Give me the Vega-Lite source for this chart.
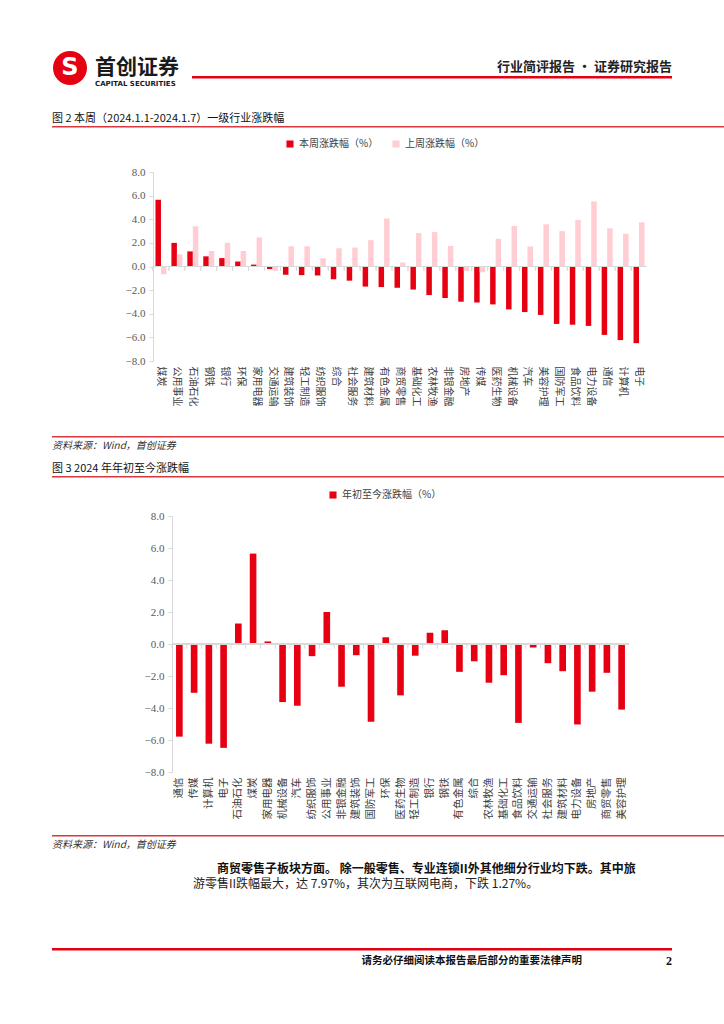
{
  "$schema": "https://vega.github.io/schema/vega-lite/v6.json",
  "padding": {"left": 52, "top": 50, "right": 0, "bottom": 0},
  "background": "white",
  "spacing": 0,
  "resolve": {"scale": {"color": "independent"}, "legend": {"color": "independent"}},
  "config": {
    "view": {"stroke": null},
    "font": "Noto Sans CJK SC"
  },
  "datasets": {
    "week": [
      {"industry": "煤炭", "本周涨跌幅（%）": 5.65, "上周涨跌幅（%）": -0.66},
      {"industry": "公用事业", "本周涨跌幅（%）": 2.00, "上周涨跌幅（%）": 1.03},
      {"industry": "石油石化", "本周涨跌幅（%）": 1.28, "上周涨跌幅（%）": 3.40},
      {"industry": "钢铁", "本周涨跌幅（%）": 0.86, "上周涨跌幅（%）": 1.31},
      {"industry": "银行", "本周涨跌幅（%）": 0.71, "上周涨跌幅（%）": 2.00},
      {"industry": "环保", "本周涨跌幅（%）": 0.42, "上周涨跌幅（%）": 1.31},
      {"industry": "家用电器", "本周涨跌幅（%）": 0.16, "上周涨跌幅（%）": 2.46},
      {"industry": "交通运输", "本周涨跌幅（%）": -0.22, "上周涨跌幅（%）": -0.37},
      {"industry": "建筑装饰", "本周涨跌幅（%）": -0.70, "上周涨跌幅（%）": 1.71},
      {"industry": "轻工制造", "本周涨跌幅（%）": -0.73, "上周涨跌幅（%）": 1.71},
      {"industry": "纺织服饰", "本周涨跌幅（%）": -0.76, "上周涨跌幅（%）": 0.69},
      {"industry": "综合", "本周涨跌幅（%）": -1.08, "上周涨跌幅（%）": 1.54},
      {"industry": "社会服务", "本周涨跌幅（%）": -1.20, "上周涨跌幅（%）": 1.60},
      {"industry": "建筑材料", "本周涨跌幅（%）": -1.70, "上周涨跌幅（%）": 2.23},
      {"industry": "有色金属", "本周涨跌幅（%）": -1.74, "上周涨跌幅（%）": 4.06},
      {"industry": "商贸零售", "本周涨跌幅（%）": -1.80, "上周涨跌幅（%）": 0.34},
      {"industry": "基础化工", "本周涨跌幅（%）": -1.95, "上周涨跌幅（%）": 2.83},
      {"industry": "农林牧渔", "本周涨跌幅（%）": -2.42, "上周涨跌幅（%）": 2.91},
      {"industry": "非银金融", "本周涨跌幅（%）": -2.67, "上周涨跌幅（%）": 1.74},
      {"industry": "房地产", "本周涨跌幅（%）": -2.98, "上周涨跌幅（%）": -0.37},
      {"industry": "传媒", "本周涨跌幅（%）": -3.05, "上周涨跌幅（%）": -0.49},
      {"industry": "医药生物", "本周涨跌幅（%）": -3.21, "上周涨跌幅（%）": 2.34},
      {"industry": "机械设备", "本周涨跌幅（%）": -3.63, "上周涨跌幅（%）": 3.43},
      {"industry": "汽车", "本周涨跌幅（%）": -3.86, "上周涨跌幅（%）": 1.69},
      {"industry": "美容护理", "本周涨跌幅（%）": -4.10, "上周涨跌幅（%）": 3.57},
      {"industry": "国防军工", "本周涨跌幅（%）": -4.86, "上周涨跌幅（%）": 3.00},
      {"industry": "食品饮料", "本周涨跌幅（%）": -4.93, "上周涨跌幅（%）": 3.94},
      {"industry": "电力设备", "本周涨跌幅（%）": -5.03, "上周涨跌幅（%）": 5.51},
      {"industry": "通信", "本周涨跌幅（%）": -5.79, "上周涨跌幅（%）": 3.23},
      {"industry": "计算机", "本周涨跌幅（%）": -6.23, "上周涨跌幅（%）": 2.77},
      {"industry": "电子", "本周涨跌幅（%）": -6.49, "上周涨跌幅（%）": 3.74}
    ],
    "ytd": [
      {"industry": "通信", "年初至今涨跌幅（%）": -5.79},
      {"industry": "传媒", "年初至今涨跌幅（%）": -3.05},
      {"industry": "计算机", "年初至今涨跌幅（%）": -6.23},
      {"industry": "电子", "年初至今涨跌幅（%）": -6.49},
      {"industry": "石油石化", "年初至今涨跌幅（%）": 1.28},
      {"industry": "煤炭", "年初至今涨跌幅（%）": 5.65},
      {"industry": "家用电器", "年初至今涨跌幅（%）": 0.16},
      {"industry": "机械设备", "年初至今涨跌幅（%）": -3.63},
      {"industry": "汽车", "年初至今涨跌幅（%）": -3.86},
      {"industry": "纺织服饰", "年初至今涨跌幅（%）": -0.76},
      {"industry": "公用事业", "年初至今涨跌幅（%）": 2.00},
      {"industry": "非银金融", "年初至今涨跌幅（%）": -2.67},
      {"industry": "建筑装饰", "年初至今涨跌幅（%）": -0.70},
      {"industry": "国防军工", "年初至今涨跌幅（%）": -4.86},
      {"industry": "环保", "年初至今涨跌幅（%）": 0.42},
      {"industry": "医药生物", "年初至今涨跌幅（%）": -3.21},
      {"industry": "轻工制造", "年初至今涨跌幅（%）": -0.73},
      {"industry": "银行", "年初至今涨跌幅（%）": 0.71},
      {"industry": "钢铁", "年初至今涨跌幅（%）": 0.86},
      {"industry": "有色金属", "年初至今涨跌幅（%）": -1.74},
      {"industry": "综合", "年初至今涨跌幅（%）": -1.08},
      {"industry": "农林牧渔", "年初至今涨跌幅（%）": -2.42},
      {"industry": "基础化工", "年初至今涨跌幅（%）": -1.95},
      {"industry": "食品饮料", "年初至今涨跌幅（%）": -4.93},
      {"industry": "交通运输", "年初至今涨跌幅（%）": -0.22},
      {"industry": "社会服务", "年初至今涨跌幅（%）": -1.20},
      {"industry": "建筑材料", "年初至今涨跌幅（%）": -1.70},
      {"industry": "电力设备", "年初至今涨跌幅（%）": -5.03},
      {"industry": "房地产", "年初至今涨跌幅（%）": -2.98},
      {"industry": "商贸零售", "年初至今涨跌幅（%）": -1.80},
      {"industry": "美容护理", "年初至今涨跌幅（%）": -4.10}
    ]
  },
  "vconcat": [
    {
      "hconcat": [
        {
          "width": 36, "height": 36,
          "data": {"values": [{"brand": "S"}]},
          "layer": [
            {"mark": {"type": "point", "filled": true, "shape": "circle", "size": 1156, "color": "#e60012", "opacity": 1}, "encoding": {}},
            {"mark": {"type": "text", "color": "white", "fontSize": 24, "fontWeight": "bold", "font": "DejaVu Sans", "baseline": "middle", "align": "center"}, "encoding": {"text": {"field": "brand"}}}
          ]
        },
        {
          "vconcat": [
            {"width": 1, "height": 7, "data": {"values": []}, "mark": "point"},
            {
              "width": 90, "height": 1,
              "data": {"values": []},
              "mark": "point",
              "title": {"text": "首创证券", "subtitle": "CAPITAL SECURITIES", "anchor": "start", "fontSize": 21, "fontWeight": "bold", "color": "#1a1a1a", "subtitleFont": "DejaVu Sans", "subtitleFontSize": 7, "subtitleFontWeight": "bold", "subtitleColor": "#1a1a1a", "subtitlePadding": 2, "offset": 0}
            }
          ],
          "spacing": 0
        },
        {
          "vconcat": [
            {"width": 1, "height": 11, "data": {"values": []}, "mark": "point"},
            {
              "width": 480, "height": 2.5,
              "data": {"values": []},
              "mark": "point",
              "view": {"fill": "#e60012", "stroke": null},
              "title": {"text": "行业简评报告 · 证券研究报告", "anchor": "end", "fontSize": 13, "fontWeight": "bold", "color": "#222222", "offset": 2}
            }
          ],
          "spacing": 0
        }
      ],
      "spacing": 7
    },
    {"width": 1, "height": 25, "data": {"values": []}, "mark": "point"},
    {
      "width": 672, "height": 1.5,
      "data": {"values": []},
      "mark": "point",
      "view": {"fill": "#d9363e", "stroke": null},
      "title": {"text": "图 2 本周（2024.1.1-2024.1.7）一级行业涨跌幅", "anchor": "start", "fontSize": 11, "fontWeight": "normal", "color": "#111111", "offset": 2}
    },
    {"width": 1, "height": 10.5, "data": {"values": []}, "mark": "point"},
    {
      "hconcat": [
        {"width": 1, "height": 1, "data": {"values": []}, "mark": "point"},
        {
          "width": 494, "height": 189,
          "data": {"name": "week"},
          "transform": [{"fold": ["本周涨跌幅（%）", "上周涨跌幅（%）"], "as": ["series", "value"]}],
          "layer": [
            {
              "mark": {"type": "bar"},
              "encoding": {
                "x": {"field": "industry", "type": "nominal", "sort": null, "scale": {"paddingInner": 0, "paddingOuter": 0},
                  "axis": {"title": null, "orient": "bottom", "domain": false, "ticks": false, "labelAngle": 90, "labelPadding": 5, "labelFontSize": 10, "labelColor": "#404040", "labelFont": "Noto Sans CJK SC"}},
                "xOffset": {"field": "series", "type": "nominal", "sort": null, "scale": {"paddingInner": 0, "paddingOuter": 0.45}},
                "y": {"field": "value", "type": "quantitative", "scale": {"domain": [-8, 8], "nice": false, "zero": false},
                  "axis": {"title": null, "values": [-8, -6, -4, -2, 0, 2, 4, 6, 8], "format": ".1f", "labelOverlap": false, "grid": false, "domainColor": "#d9d9d9", "tickColor": "#d9d9d9", "tickSize": 4, "labelFont": "Liberation Serif", "labelFontSize": 11, "labelColor": "#595959", "labelPadding": 4, "minExtent": 100}},
                "color": {"field": "series", "type": "nominal", "sort": null,
                  "scale": {"domain": ["本周涨跌幅（%）", "上周涨跌幅（%）"], "range": ["#e60012", "#ffcdd3"]},
                  "legend": {"title": null, "orient": "none", "legendX": 233, "legendY": -33, "direction": "horizontal", "symbolType": "square", "symbolSize": 50, "labelFontSize": 10, "labelColor": "#404040", "columnPadding": 12, "labelFont": "Noto Sans CJK SC", "padding": 0}}
              }
            },
            {"mark": {"type": "rule", "color": "#d9d9d9", "strokeWidth": 1}, "encoding": {"y": {"datum": 0, "type": "quantitative",
              "axis": {"title": null, "values": [-8, -6, -4, -2, 0, 2, 4, 6, 8], "format": ".1f", "labelOverlap": false, "grid": false, "domainColor": "#d9d9d9", "tickColor": "#d9d9d9", "tickSize": 4, "labelFont": "Liberation Serif", "labelFontSize": 11, "labelColor": "#595959", "labelPadding": 4, "minExtent": 100}}}},
            {"mark": {"type": "rule", "color": "#d9d9d9", "strokeWidth": 1}, "encoding": {"x": {"field": "industry", "type": "nominal", "sort": null, "bandPosition": 0}, "y": {"datum": 0, "type": "quantitative",
              "axis": {"title": null, "values": [-8, -6, -4, -2, 0, 2, 4, 6, 8], "format": ".1f", "labelOverlap": false, "grid": false, "domainColor": "#d9d9d9", "tickColor": "#d9d9d9", "tickSize": 4, "labelFont": "Liberation Serif", "labelFontSize": 11, "labelColor": "#595959", "labelPadding": 4, "minExtent": 100}}, "y2": {"datum": -0.35}}}
          ]
        }
      ],
      "spacing": 0
    },
    {"width": 1, "height": 30, "data": {"values": []}, "mark": "point"},
    {
      "width": 672, "height": 1.5,
      "data": {"values": []},
      "mark": "point",
      "view": {"fill": "#d9363e", "stroke": null},
      "title": {"text": "资料来源：Wind，首创证券", "orient": "bottom", "anchor": "start", "fontSize": 10, "fontStyle": "italic", "fontWeight": "normal", "color": "#333333", "offset": 3}
    },
    {"width": 1, "height": 11.5, "data": {"values": []}, "mark": "point"},
    {
      "width": 672, "height": 1.5,
      "data": {"values": []},
      "mark": "point",
      "view": {"fill": "#d9363e", "stroke": null},
      "title": {"text": "图 3 2024 年年初至今涨跌幅", "anchor": "start", "fontSize": 11, "fontWeight": "normal", "color": "#111111", "offset": 2}
    },
    {"width": 1, "height": 11.5, "data": {"values": []}, "mark": "point"},
    {
      "hconcat": [
        {"width": 1, "height": 1, "data": {"values": []}, "mark": "point"},
        {
          "width": 457, "height": 256,
          "data": {"name": "ytd"},
          "transform": [{"fold": ["年初至今涨跌幅（%）"], "as": ["series", "value"]}],
          "layer": [
            {
              "mark": {"type": "bar", "width": {"band": 0.45}},
              "encoding": {
                "x": {"field": "industry", "type": "nominal", "sort": null, "scale": {"paddingInner": 0, "paddingOuter": 0},
                  "axis": {"title": null, "orient": "bottom", "domain": false, "ticks": false, "labelAngle": -90, "labelPadding": 5, "labelFontSize": 10.5, "labelColor": "#404040", "labelFont": "Noto Sans CJK SC"}},
                "y": {"field": "value", "type": "quantitative", "scale": {"domain": [-8, 8], "nice": false, "zero": false},
                  "axis": {"title": null, "values": [-8, -6, -4, -2, 0, 2, 4, 6, 8], "format": ".1f", "labelOverlap": false, "grid": false, "domainColor": "#d9d9d9", "tickColor": "#d9d9d9", "tickSize": 4, "labelFont": "Liberation Serif", "labelFontSize": 11, "labelColor": "#595959", "labelPadding": 4, "minExtent": 119}},
                "color": {"field": "series", "type": "nominal",
                  "scale": {"domain": ["年初至今涨跌幅（%）"], "range": ["#e60012"]},
                  "legend": {"title": null, "orient": "none", "legendX": 276, "legendY": -26, "direction": "horizontal", "symbolType": "square", "symbolSize": 50, "labelFontSize": 10, "labelColor": "#404040", "labelFont": "Noto Sans CJK SC", "padding": 0}}
              }
            },
            {"mark": {"type": "rule", "color": "#d9d9d9", "strokeWidth": 1}, "encoding": {"y": {"datum": 0, "type": "quantitative",
              "axis": {"title": null, "values": [-8, -6, -4, -2, 0, 2, 4, 6, 8], "format": ".1f", "labelOverlap": false, "grid": false, "domainColor": "#d9d9d9", "tickColor": "#d9d9d9", "tickSize": 4, "labelFont": "Liberation Serif", "labelFontSize": 11, "labelColor": "#595959", "labelPadding": 4, "minExtent": 119}}}},
            {"mark": {"type": "rule", "color": "#d9d9d9", "strokeWidth": 1}, "encoding": {"x": {"field": "industry", "type": "nominal", "sort": null, "bandPosition": 0}, "y": {"datum": 0, "type": "quantitative",
              "axis": {"title": null, "values": [-8, -6, -4, -2, 0, 2, 4, 6, 8], "format": ".1f", "labelOverlap": false, "grid": false, "domainColor": "#d9d9d9", "tickColor": "#d9d9d9", "tickSize": 4, "labelFont": "Liberation Serif", "labelFontSize": 11, "labelColor": "#595959", "labelPadding": 4, "minExtent": 119}}, "y2": {"datum": -0.3}}}
          ]
        }
      ],
      "spacing": 0
    },
    {"width": 1, "height": 16, "data": {"values": []}, "mark": "point"},
    {
      "width": 672, "height": 1.5,
      "data": {"values": []},
      "mark": "point",
      "view": {"fill": "#d9363e", "stroke": null},
      "title": {"text": "资料来源：Wind，首创证券", "orient": "bottom", "anchor": "start", "fontSize": 10, "fontStyle": "italic", "fontWeight": "normal", "color": "#333333", "offset": 3}
    },
    {"width": 1, "height": 12.5, "data": {"values": []}, "mark": "point"},
    {
      "width": 672, "height": 1,
      "data": {"values": []},
      "mark": "point",
      "title": {"text": "\u200b\u3000\u3000商贸零售子板块方面。 除一般零售、专业连锁II外其他细分行业均下跌。其中旅", "subtitle": "游零售II跌幅最大，达 7.97%，其次为互联网电商，下跌 1.27%。", "anchor": "start", "dx": 141, "fontSize": 12, "fontWeight": "bold", "color": "#111111", "subtitleFontSize": 12, "subtitleColor": "#222222", "subtitlePadding": 3, "offset": 0}
    },
    {"width": 1, "height": 56, "data": {"values": []}, "mark": "point"},
    {
      "hconcat": [
        {
          "width": 530, "height": 2.5,
          "data": {"values": []},
          "mark": "point",
          "view": {"fill": "#e60012", "stroke": null},
          "title": {"text": "请务必仔细阅读本报告最后部分的重要法律声明", "orient": "bottom", "anchor": "end", "fontSize": 10.5, "fontWeight": "bold", "color": "#111111", "offset": 5}
        },
        {
          "width": 90, "height": 2.5,
          "data": {"values": []},
          "mark": "point",
          "view": {"fill": "#e60012", "stroke": null},
          "title": {"text": "2", "orient": "bottom", "anchor": "end", "font": "Liberation Serif", "fontSize": 12, "fontWeight": "bold", "color": "#111111", "offset": 5}
        }
      ],
      "spacing": 0
    }
  ]
}
